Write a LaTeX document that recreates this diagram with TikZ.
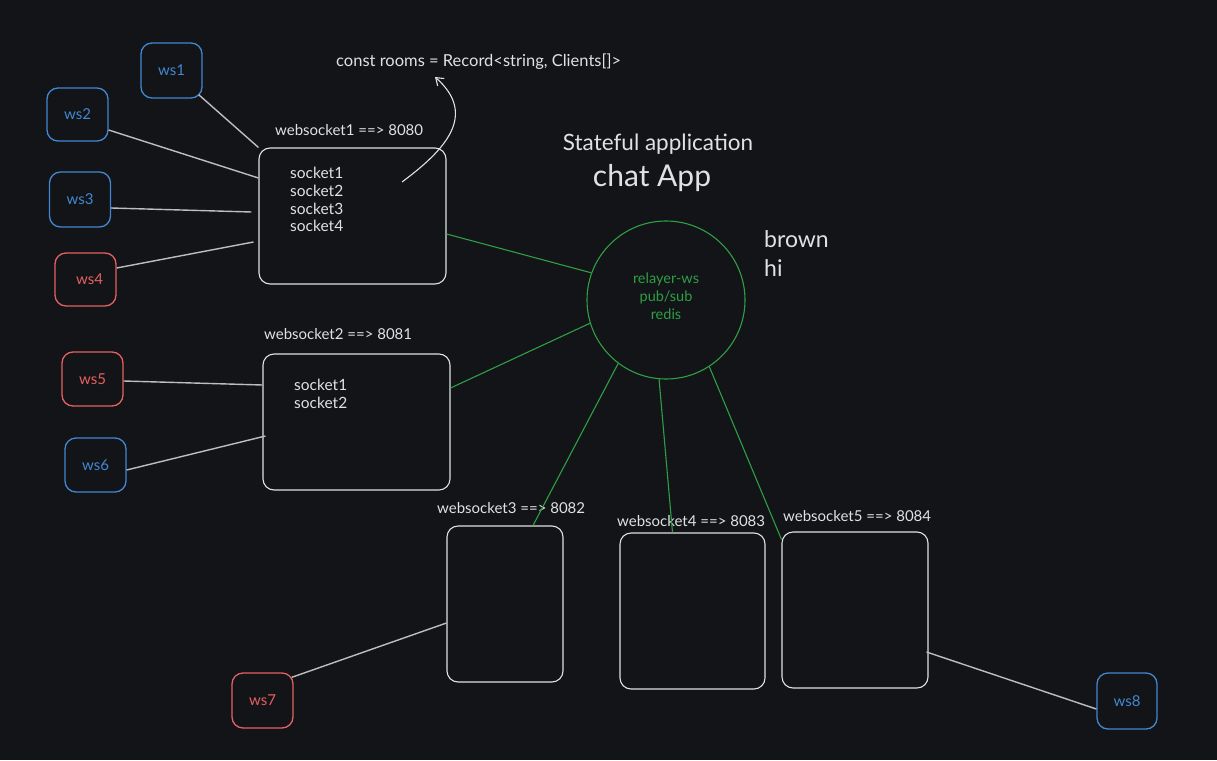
\documentclass[tikz,border=0pt]{standalone}
\usepackage{fontspec}
\setmainfont{Lato}
\usetikzlibrary{calc,arrows.meta}
\definecolor{bg}{RGB}{18,20,24}
\definecolor{fg}{RGB}{225,225,225}
\definecolor{lnk}{RGB}{190,190,190}
\definecolor{cblue}{RGB}{66,135,210}
\definecolor{cred}{RGB}{230,96,96}
\definecolor{cgreen}{RGB}{47,158,68}
\begin{document}
\begin{tikzpicture}[x=1pt,y=-1pt,
 client/.style={draw, rounded corners=11pt, line width=1.3pt, minimum width=61pt, minimum height=55pt, inner sep=0pt, font=\fontsize{15}{17}\selectfont},
 blueclient/.style={client, draw=cblue, text=cblue},
 redclient/.style={client, draw=cred, text=cred},
 server/.style={draw=fg, rounded corners=11pt, line width=1.1pt, inner sep=0pt},
 lbl/.style={text=fg, font=\fontsize{15}{17}\selectfont, inner sep=0pt},
 wire/.style={draw=lnk, line width=1.4pt},
 gwire/.style={draw=cgreen, line width=1.1pt}]
\fill[bg] (0,0) rectangle (1217,760);
\useasboundingbox (0,0) rectangle (1217,760);

% clients
\node[blueclient] (ws1) at (171.5,70.5) {ws1};
\node[blueclient, minimum height=53pt] (ws2) at (77.5,114.5) {ws2};
\node[blueclient] (ws3) at (80,199.5) {ws3};
\node[redclient, minimum height=53pt] (ws4) at (85.5,279.5) {\hspace*{8pt}ws4};
\node[redclient, minimum height=54pt] (ws5) at (92.5,379) {ws5};
\node[blueclient, minimum height=54pt] (ws6) at (95.5,465) {ws6};
\node[redclient] (ws7) at (262.5,700.5) {ws7};
\node[blueclient, minimum width=60pt, minimum height=56pt] (ws8) at (1127,701) {ws8};

% servers
\node[server, minimum width=187pt, minimum height=136pt] (w1) at (352.5,216) {};
\node[server, minimum width=187pt, minimum height=136pt] (w2) at (356.5,422) {};
\node[server, minimum width=116pt, minimum height=156pt] (w3) at (505,604) {};
\node[server, minimum width=145pt, minimum height=156pt] (w4) at (692.5,611) {};
\node[server, minimum width=146pt, minimum height=156pt] (w5) at (855,610) {};

% hub
\node[circle, draw=cgreen, line width=1.1pt, minimum size=158pt, inner sep=0pt] (hub) at (666,300) {};
\node[text=cgreen, font=\fontsize{14.5}{18}\selectfont, align=center, inner sep=0pt] (hubtxt) at (666,296) {relayer-ws\\pub/sub\\redis};

% labels
\node[lbl, anchor=west] (l1) at (275,130) {websocket1 ==> 8080};
\node[lbl, anchor=west] (l2) at (264,334) {websocket2 ==> 8081};
\node[lbl, anchor=west] (l3) at (437,508) {websocket3 ==> 8082};
\node[lbl, anchor=west] (l4) at (617,521) {websocket4 ==> 8083};
\node[lbl, anchor=west] (l5) at (783,516) {websocket5 ==> 8084};

\node[lbl, font=\fontsize{15.5}{17.7}\selectfont, anchor=north west, align=left] (s1) at (290,167) {socket1\\socket2\\socket3\\socket4};
\node[lbl, font=\fontsize{15.5}{17.7}\selectfont, anchor=north west, align=left] (s2) at (294,379) {socket1\\socket2};

\node[lbl, font=\fontsize{16.5}{18}\selectfont, anchor=west] (code) at (336,62) {const rooms = Record<string, Clients[]>};
\node[text=fg, font=\fontsize{22.5}{24}\selectfont, inner sep=0pt] (st) at (658,144) {Stateful application};
\node[text=fg, font=\fontsize{30}{32}\selectfont, inner sep=0pt] (chat) at (652,178) {chat App};
\node[text=fg, font=\fontsize{23}{29}\selectfont, anchor=north west, align=left, inner sep=0pt] (bh) at (764,230) {brown\\hi};

% arrow
\coordinate (arS) at (402,182);
\coordinate (arE) at (435,77);
\draw[draw=fg, line width=1.1pt, -{Straight Barb[length=7pt,width=10pt]}] (arS) .. controls (445,150) and (478,115) .. (arE);

% wires
\draw[wire] ([shift={(-4pt,4pt)}]ws1.south east) -- (w1.north west);
\draw[wire] ([yshift=-15.5pt]ws2.east) -- ([yshift=38pt]w1.west);
\draw[wire] ([yshift=-8.5pt]ws3.east) -- ([xshift=-7pt,yshift=4pt]w1.west);
\draw[wire] ([yshift=11.5pt]ws4.east) -- ([xshift=-5pt,yshift=-26pt]w1.west);
\draw[wire] ([yshift=-2pt]ws5.east) -- ([yshift=37pt]w2.west);
\draw[wire] ([yshift=-5pt]ws6.east) -- ([xshift=3pt,yshift=-14pt]w2.west);
\draw[wire] ([shift={(-2pt,-5pt)}]ws7.north east) -- ([yshift=-19pt]w3.west);
\draw[wire] ([yshift=-8pt]ws8.west) -- ([xshift=-2pt,yshift=-42pt]w5.east);

% green links
\draw[gwire] ([yshift=-18pt]w1.east) -- (hub.160);
\draw[gwire] ([yshift=34pt]w2.east) -- (hub.197);
\draw[gwire] ([xshift=28pt]w3.north) -- (hub.233);
\draw[gwire] ([xshift=-20pt]w4.north) -- (hub.265);
\draw[gwire] ([yshift=-8pt]w5.north west) -- (hub.303);
\end{tikzpicture}
\end{document}
